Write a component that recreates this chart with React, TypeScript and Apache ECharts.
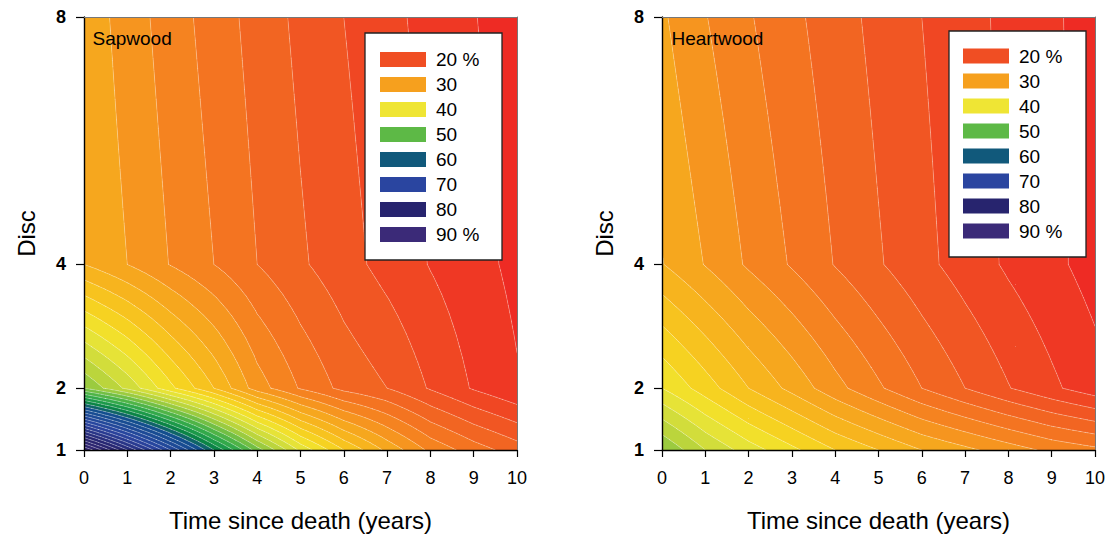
import React, { useEffect, useRef } from "react";
import * as echarts from "echarts";

// Axes
const YEARS = [0, 1, 2, 3, 4, 5, 6, 7, 8, 9, 10];
const DISCS = [1, 2, 4, 8];
const DISC_TICKS = [1, 2, 4, 8];

// Moisture content (%) per disc, one value for each year since death
const sapwoodDisc1 = [88, 78, 68, 58, 49, 41.5, 36, 31.5, 27.5, 25, 23];
const sapwoodDisc2 = [48, 43.5, 38.5, 34, 29, 25.8, 23.4, 22.0, 19.8, 17.8, 16.2];
const sapwoodDisc4 = [32.0, 30.0, 27.9, 26.0, 24.0, 22.3, 20.8, 19.3, 17.9, 16.7, 15.5];
const sapwoodDisc8 = [31.3, 29.1, 27.0, 25.1, 23.2, 21.5, 20.0, 18.6, 17.3, 16.1, 14.9];

const heartwoodDisc1 = [48, 44, 41, 38.5, 36, 34, 32, 30.5, 29, 27.5, 26.5];
const heartwoodDisc2 = [40, 37, 34, 31.4, 28.7, 26.3, 24.0, 22.0, 20.1, 18.4, 16.8];
const heartwoodDisc4 = [32.1, 29.9, 27.7, 25.8, 23.9, 22.2, 20.6, 19.1, 17.7, 16.5, 15.2];
const heartwoodDisc8 = [30.3, 28.1, 26.2, 24.5, 22.9, 21.4, 20.0, 18.7, 17.5, 16.3, 15.2];

// Contour levels (%)
const LEVELS = [
  12, 14, 16, 18, 20, 22, 24, 26, 28, 30, 32, 34, 36, 38, 40, 42, 44, 46, 48, 50,
  52, 54, 56, 58, 60, 62, 64, 66, 68, 70, 72, 74, 76, 78, 80, 82, 84, 86, 88, 90, 92,
];

// Legend entries
const LEGEND_VALUES = [20, 30, 40, 50, 60, 70, 80, 90];
const LEGEND_LABELS = ["20 %", "30", "40", "50", "60", "70", "80", "90 %"];

const FONT = "'Liberation Sans', Arial, Helvetica, sans-serif";

// Colour ramp for moisture content
const COLOR_STOPS: [number, string][] = [
  [12, "#EC1C24"],
  [16, "#EE3024"],
  [20, "#F04E23"],
  [24, "#F36D21"],
  [28, "#F58A1F"],
  [30, "#F6A01E"],
  [34, "#F7BB1E"],
  [38, "#F5DA22"],
  [40, "#EFE534"],
  [42, "#DDE13A"],
  [46, "#AFD13D"],
  [50, "#5DB946"],
  [54, "#25A34B"],
  [57, "#0B8446"],
  [59, "#0F6468"],
  [61, "#134E8E"],
  [70, "#2A45A0"],
  [80, "#27246E"],
  [90, "#3B2A78"],
];

function hexToRgb(h: string) {
  const n = parseInt(h.slice(1), 16);
  return [(n >> 16) & 255, (n >> 8) & 255, n & 255];
}

function colorAt(v: number) {
  if (v <= COLOR_STOPS[0][0]) return COLOR_STOPS[0][1];
  for (let i = 1; i < COLOR_STOPS.length; i++) {
    const [v1, c1] = COLOR_STOPS[i];
    if (v <= v1) {
      const [v0, c0] = COLOR_STOPS[i - 1];
      const t = (v - v0) / (v1 - v0);
      const a = hexToRgb(c0);
      const b = hexToRgb(c1);
      const m = a.map((x, k) => Math.round(x + (b[k] - x) * t));
      return `rgb(${m[0]},${m[1]},${m[2]})`;
    }
  }
  return COLOR_STOPS[COLOR_STOPS.length - 1][1];
}

type P = { x: number; y: number; v: number };

// Split every data cell into small triangles, values from bilinear interpolation
function buildTriangles(rows: number[][], sub: number): P[][] {
  const tris: P[][] = [];
  for (let j = 0; j < DISCS.length - 1; j++) {
    for (let i = 0; i < YEARS.length - 1; i++) {
      const v00 = rows[j][i];
      const v10 = rows[j][i + 1];
      const v01 = rows[j + 1][i];
      const v11 = rows[j + 1][i + 1];
      const x0 = YEARS[i];
      const x1 = YEARS[i + 1];
      const y0 = DISCS[j];
      const y1 = DISCS[j + 1];
      const node = (a: number, b: number): P => {
        const u = a / sub;
        const w = b / sub;
        return {
          x: x0 + (x1 - x0) * u,
          y: y0 + (y1 - y0) * w,
          v: (1 - u) * (1 - w) * v00 + u * (1 - w) * v10 + (1 - u) * w * v01 + u * w * v11,
        };
      };
      for (let a = 0; a < sub; a++) {
        for (let b = 0; b < sub; b++) {
          const p00 = node(a, b);
          const p10 = node(a + 1, b);
          const p11 = node(a + 1, b + 1);
          const p01 = node(a, b + 1);
          tris.push([p00, p10, p11], [p00, p11, p01]);
        }
      }
    }
  }
  return tris;
}

// Keep the part of a polygon where sign * (v - level) >= 0
function clip(poly: P[], level: number, sign: number): P[] {
  const out: P[] = [];
  for (let i = 0; i < poly.length; i++) {
    const a = poly[i];
    const b = poly[(i + 1) % poly.length];
    const da = sign * (a.v - level);
    const db = sign * (b.v - level);
    if (da >= 0) out.push(a);
    if (da >= 0 !== db >= 0) {
      const t = da / (da - db);
      out.push({ x: a.x + t * (b.x - a.x), y: a.y + t * (b.y - a.y), v: level });
    }
  }
  return out;
}

function fillSeries(tris: P[][], axisIndex: number) {
  return {
    type: "custom",
    xAxisIndex: axisIndex,
    yAxisIndex: axisIndex,
    silent: true,
    z: 2,
    data: LEVELS.slice(0, -1).map((_, k) => k),
    renderItem: (params: any, api: any) => {
      const k = params.dataIndex;
      const lo = LEVELS[k];
      const hi = LEVELS[k + 1];
      let d = "";
      for (const t of tris) {
        const mn = Math.min(t[0].v, t[1].v, t[2].v);
        const mx = Math.max(t[0].v, t[1].v, t[2].v);
        if (mx < lo || mn > hi) continue;
        let poly = clip(t, lo, 1);
        if (poly.length < 3) continue;
        poly = clip(poly, hi, -1);
        if (poly.length < 3) continue;
        for (let i = 0; i < poly.length; i++) {
          const c = api.coord([poly[i].x, poly[i].y]);
          d += (i ? "L" : "M") + c[0].toFixed(2) + " " + c[1].toFixed(2);
        }
        d += "Z";
      }
      if (!d) return null;
      return {
        type: "path",
        shape: { pathData: d },
        style: { fill: colorAt((lo + hi) / 2), stroke: null },
      };
    },
  };
}

function lineSeries(tris: P[][], axisIndex: number) {
  return {
    type: "custom",
    xAxisIndex: axisIndex,
    yAxisIndex: axisIndex,
    silent: true,
    z: 3,
    data: LEVELS.map((_, k) => k),
    renderItem: (params: any, api: any) => {
      const L = LEVELS[params.dataIndex];
      let d = "";
      for (const t of tris) {
        const pts: number[][] = [];
        for (let e = 0; e < 3; e++) {
          const a = t[e];
          const b = t[(e + 1) % 3];
          if (a.v >= L !== b.v >= L) {
            const s = (L - a.v) / (b.v - a.v);
            pts.push([a.x + s * (b.x - a.x), a.y + s * (b.y - a.y)]);
          }
        }
        if (pts.length === 2) {
          const c0 = api.coord(pts[0]);
          const c1 = api.coord(pts[1]);
          d += `M${c0[0].toFixed(2)} ${c0[1].toFixed(2)}L${c1[0].toFixed(2)} ${c1[1].toFixed(2)}`;
        }
      }
      if (!d) return null;
      return {
        type: "path",
        shape: { pathData: d },
        style: { fill: null, stroke: "rgba(255,255,255,0.32)", lineWidth: 0.7, lineCap: "round" },
      };
    },
  };
}

const PANELS = [
  {
    label: "Sapwood",
    rows: [sapwoodDisc1, sapwoodDisc2, sapwoodDisc4, sapwoodDisc8],
    left: 84,
    labelX: 92.5,
    box: { x: 365, y: 33, w: 137, h: 227, swatchX: 380, textX: 436, firstY: 59.5 },
  },
  {
    label: "Heartwood",
    rows: [heartwoodDisc1, heartwoodDisc2, heartwoodDisc4, heartwoodDisc8],
    left: 662,
    labelX: 671.5,
    box: { x: 949, y: 31, w: 137, h: 226, swatchX: 963, textX: 1019, firstY: 56 },
  },
];

const GRID_TOP = 17;
const GRID_W = 433;
const GRID_H = 433;

function buildOption() {
  const grid: any[] = [];
  const xAxis: any[] = [];
  const yAxis: any[] = [];
  const series: any[] = [];
  const graphic: any[] = [];

  PANELS.forEach((p, gi) => {
    grid.push({ left: p.left, top: GRID_TOP, width: GRID_W, height: GRID_H, containLabel: false });

    // bottom axis (index 2*gi) and top frame line (index 2*gi + 1)
    xAxis.push({
      gridIndex: gi,
      type: "value",
      min: 0,
      max: 10,
      interval: 1,
      position: "bottom",
      z: 10,
      axisLine: { show: true, onZero: false, lineStyle: { color: "#000", width: 1.4 } },
      axisTick: { show: true, length: 7, lineStyle: { color: "#000", width: 1.2 } },
      axisLabel: { color: "#000", fontSize: 18, margin: 19, fontFamily: FONT },
      splitLine: { show: false },
      name: "Time since death (years)",
      nameLocation: "middle",
      nameGap: 58,
      nameTextStyle: { color: "#000", fontSize: 24, fontFamily: FONT },
    });
    xAxis.push({
      gridIndex: gi,
      type: "value",
      min: 0,
      max: 10,
      position: "top",
      z: 10,
      axisLine: { show: true, onZero: false, lineStyle: { color: "#777", width: 1 } },
      axisTick: { show: false },
      axisLabel: { show: false },
      splitLine: { show: false },
    });

    yAxis.push({
      gridIndex: gi,
      type: "value",
      min: 1,
      max: 8,
      position: "left",
      z: 10,
      axisLine: { show: true, onZero: false, lineStyle: { color: "#000", width: 1.4 } },
      axisTick: { show: true, length: 8, customValues: DISC_TICKS, lineStyle: { color: "#000", width: 1.2 } },
      axisLabel: {
        customValues: DISC_TICKS,
        color: "#000",
        fontSize: 18,
        fontWeight: "bold",
        margin: 18,
        fontFamily: FONT,
      },
      splitLine: { show: false },
      name: "Disc",
      nameLocation: "middle",
      nameGap: 46,
      nameRotate: 90,
      nameTextStyle: { color: "#000", fontSize: 24, fontFamily: FONT },
    });
    yAxis.push({
      gridIndex: gi,
      type: "value",
      min: 1,
      max: 8,
      position: "right",
      z: 10,
      axisLine: { show: true, onZero: false, lineStyle: { color: "#777", width: 1 } },
      axisTick: { show: false },
      axisLabel: { show: false },
      splitLine: { show: false },
    });

    const tris = buildTriangles(p.rows, 6);
    series.push(fillSeries(tris, gi * 2));
    series.push(lineSeries(tris, gi * 2));

    // panel label
    graphic.push({
      type: "text",
      z: 100,
      x: p.labelX,
      y: 38.5,
      style: {
        text: p.label,
        fill: "#000",
        font: `19px ${FONT}`,
        textAlign: "left",
        textVerticalAlign: "middle",
      },
    });

    // legend box
    const b = p.box;
    graphic.push({
      type: "rect",
      z: 100,
      shape: { x: b.x, y: b.y, width: b.w, height: b.h },
      style: { fill: "#fff", stroke: "#222", lineWidth: 1.3 },
    });
    LEGEND_VALUES.forEach((v, k) => {
      const cy = b.firstY + k * 25;
      graphic.push({
        type: "rect",
        z: 101,
        shape: { x: b.swatchX, y: cy - 7.5, width: 46, height: 15 },
        style: { fill: colorAt(v) },
      });
      graphic.push({
        type: "text",
        z: 101,
        x: b.textX,
        y: cy,
        style: {
          text: LEGEND_LABELS[k],
          fill: "#000",
          font: `19px ${FONT}`,
          textAlign: "left",
          textVerticalAlign: "middle",
        },
      });
    });
  });

  return {
    animation: false,
    backgroundColor: "#fff",
    textStyle: { fontFamily: FONT },
    grid,
    xAxis,
    yAxis,
    series,
    graphic,
  };
}

export default function App() {
  const ref = useRef<HTMLDivElement>(null);
  useEffect(() => {
    document.body.style.margin = "0";
    const chart = echarts.init(ref.current as HTMLDivElement, null, { renderer: "svg" });
    chart.setOption(buildOption() as any);
    return () => chart.dispose();
  }, []);
  return <div ref={ref} style={{ width: 1114, height: 540 }} />;
}
